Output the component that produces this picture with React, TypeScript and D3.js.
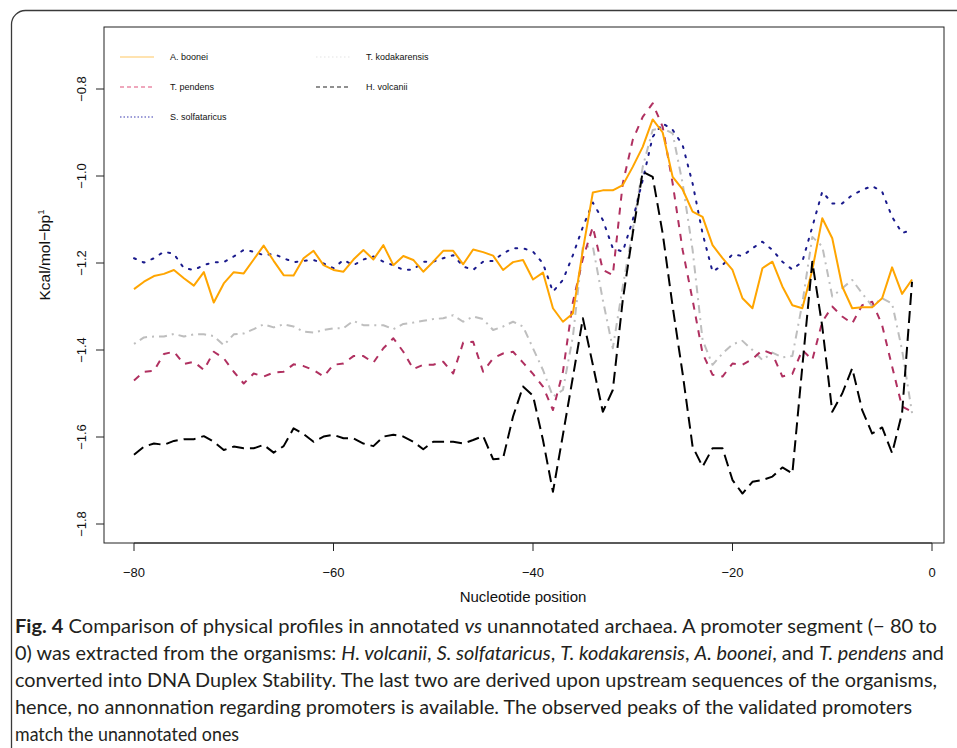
import React from "react"
import * as d3 from "d3"

// nucleotide positions (x) for every series
const positions = [
  -80, -79, -78, -77, -76, -75, -74, -73, -72, -71, -70, -69, -68, -67, -66, -65, -64, -63, -62, -61,
  -60, -59, -58, -57, -56, -55, -54, -53, -52, -51, -50, -49, -48, -47, -46, -45, -44, -43, -42, -41,
  -40, -39, -38, -37, -36, -35, -34, -33, -32, -31, -30, -29, -28, -27, -26, -25, -24, -23, -22, -21,
  -20, -19, -18, -17, -16, -15, -14, -13, -12, -11, -10, -9, -8, -7, -6, -5, -4, -3, -2,
]

const aBoonei = [
  -1.26, -1.243, -1.23, -1.225, -1.216, -1.235, -1.252, -1.221, -1.291, -1.247, -1.221, -1.224, -1.192, -1.16, -1.195, -1.228, -1.229, -1.189, -1.172, -1.205,
  -1.216, -1.22, -1.192, -1.17, -1.192, -1.159, -1.205, -1.184, -1.193, -1.22, -1.197, -1.172, -1.172, -1.203, -1.169, -1.175, -1.183, -1.216, -1.198, -1.193,
  -1.238, -1.222, -1.304, -1.335, -1.316, -1.17, -1.038, -1.033, -1.033, -1.021, -0.979, -0.933, -0.87, -0.9, -1.002, -1.031, -1.082, -1.094, -1.159, -1.189,
  -1.216, -1.281, -1.304, -1.212, -1.197, -1.254, -1.297, -1.304, -1.216, -1.097, -1.143, -1.254, -1.304, -1.302, -1.302, -1.281, -1.21, -1.271, -1.238,
]

const tPendens = [
  -1.47, -1.45, -1.448, -1.409, -1.404, -1.432, -1.427, -1.446, -1.404, -1.419, -1.45, -1.477, -1.454, -1.461, -1.452, -1.45, -1.433, -1.437, -1.446, -1.461,
  -1.434, -1.431, -1.414, -1.414, -1.429, -1.396, -1.373, -1.404, -1.444, -1.434, -1.434, -1.427, -1.454, -1.383, -1.381, -1.45, -1.419, -1.408, -1.404, -1.429,
  -1.455, -1.484, -1.538, -1.45, -1.29, -1.19, -1.117, -1.216, -1.228, -1.017, -0.917, -0.864, -0.833, -0.887, -1.017, -1.17, -1.285, -1.408, -1.457, -1.461,
  -1.431, -1.434, -1.421, -1.4, -1.409, -1.461, -1.455, -1.4, -1.423, -1.335, -1.3, -1.323, -1.339, -1.297, -1.289, -1.343, -1.438, -1.53, -1.542,
]

const sSolfataricus = [
  -1.189, -1.199, -1.189, -1.174, -1.179, -1.212, -1.216, -1.205, -1.198, -1.198, -1.185, -1.17, -1.174, -1.182, -1.179, -1.189, -1.198, -1.195, -1.193, -1.201,
  -1.212, -1.193, -1.205, -1.192, -1.185, -1.197, -1.205, -1.216, -1.215, -1.197, -1.197, -1.189, -1.182, -1.208, -1.216, -1.197, -1.195, -1.178, -1.166, -1.166,
  -1.174, -1.201, -1.266, -1.239, -1.182, -1.117, -1.061, -1.101, -1.166, -1.174, -1.101, -1.009, -0.91, -0.879, -0.894, -0.929, -1.017, -1.132, -1.22, -1.205,
  -1.18, -1.184, -1.166, -1.151, -1.17, -1.197, -1.215, -1.197, -1.117, -1.036, -1.063, -1.063, -1.044, -1.032, -1.023, -1.036, -1.094, -1.131, -1.124,
]

const tKodakarensis = [
  -1.386, -1.371, -1.369, -1.369, -1.363, -1.369, -1.364, -1.364, -1.368, -1.389, -1.364, -1.362, -1.352, -1.341, -1.348, -1.341, -1.346, -1.358, -1.36, -1.354,
  -1.35, -1.35, -1.333, -1.343, -1.343, -1.343, -1.352, -1.34, -1.337, -1.333, -1.329, -1.327, -1.32, -1.335, -1.323, -1.329, -1.354, -1.346, -1.335, -1.346,
  -1.396, -1.446, -1.507, -1.492, -1.369, -1.162, -1.162, -1.285, -1.396, -1.254, -1.124, -0.979, -0.894, -0.89, -0.902, -1.017, -1.17, -1.377, -1.434, -1.408,
  -1.387, -1.379, -1.4, -1.423, -1.406, -1.417, -1.414, -1.293, -1.14, -1.162, -1.277, -1.258, -1.239, -1.27, -1.299, -1.281, -1.293, -1.4, -1.545,
]

const hVolcanii = [
  -1.641, -1.622, -1.615, -1.618, -1.609, -1.605, -1.605, -1.598, -1.611, -1.63, -1.622, -1.626, -1.626, -1.618, -1.636, -1.621, -1.58, -1.593, -1.611, -1.599,
  -1.595, -1.603, -1.603, -1.615, -1.621, -1.599, -1.595, -1.599, -1.611, -1.628, -1.611, -1.611, -1.611, -1.615, -1.607, -1.598, -1.651, -1.649, -1.553, -1.484,
  -1.505, -1.607, -1.726, -1.595, -1.462, -1.327, -1.434, -1.542, -1.492, -1.285, -1.132, -0.99, -1.002, -1.132, -1.3, -1.454, -1.622, -1.668, -1.626, -1.626,
  -1.699, -1.73, -1.703, -1.699, -1.691, -1.67, -1.684, -1.438, -1.197, -1.346, -1.542, -1.5, -1.442, -1.538, -1.592, -1.578, -1.637, -1.545, -1.243,
]

const xTicks = [-80, -60, -40, -20, 0]
const yTicks = [-0.8, -1.0, -1.2, -1.4, -1.6, -1.8]

const series = [
  { name: "T. kodakarensis", values: tKodakarensis, color: "#bebebe", dash: "2,5,8,5", legendColor: "#e4e4e4" },
  { name: "T. pendens", values: tPendens, color: "#b03060", dash: "7,7", legendColor: "#e0507a" },
  { name: "S. solfataricus", values: sSolfataricus, color: "#1a1a8c", dash: "2,7.5", legendColor: "#3a3ab0" },
  { name: "A. boonei", values: aBoonei, color: "#ffa500", dash: null, legendColor: "#ffc862" },
  { name: "H. volcanii", values: hVolcanii, color: "#000000", dash: "12,6", legendColor: "#222" },
]

const legendLeft = ["A. boonei", "T. pendens", "S. solfataricus"]
const legendRight = ["T. kodakarensis", "H. volcanii"]

const font = "'Liberation Sans', Arial, Helvetica, sans-serif"
const capFont = "Lato, 'Open Sans', sans-serif"

export default function App() {
  const box = { left: 104, right: 944, top: 27, bottom: 543 }
  const x = d3.scaleLinear().domain([-80, 0]).range([134, 932])
  const y = d3.scaleLinear().domain([-0.8, -1.8]).range([89, 524])

  const line = d3
    .line<number>()
    .x((d, i) => x(positions[i]))
    .y(d => y(d))

  const fmt = (v: number) => (v < 0 ? "\u2212" : "") + d3.format(".1f")(Math.abs(v))
  const fmtX = (v: number) => (v < 0 ? "\u2212" : "") + Math.abs(v)

  const styleOf = (name: string) => series.find(s => s.name === name)!

  const legendItem = (name: string, lx: number, ly: number) => {
    const s = styleOf(name)
    return (
      <g key={name}>
        <line x1={lx} x2={lx + 34} y1={ly} y2={ly} stroke={s.legendColor} strokeWidth={1.2}
          strokeDasharray={s.dash ? (name === "S. solfataricus" ? "1.5,2" : name === "T. kodakarensis" ? "1.5,2.5" : "4,3") : undefined} />
        <text x={lx + 50} y={ly + 3.2} fontSize={9} fontFamily={font} fill="#111">{name}</text>
      </g>
    )
  }

  const captionLines = [
    { y: 633, len: 922, parts: [["Fig. 4", "b"], ["  Comparison of physical profiles in annotated ", ""], ["vs", "i"], [" unannotated archaea. A promoter segment (\u2212 80 to", ""]] },
    { y: 660, len: 929, parts: [["0) was extracted from the organisms: ", ""], ["H. volcanii", "i"], [", ", ""], ["S. solfataricus", "i"], [", ", ""], ["T. kodakarensis", "i"], [", ", ""], ["A. boonei", "i"], [", and ", ""], ["T. pendens", "i"], [" and", ""]] },
    { y: 687, len: 922, parts: [["converted into DNA Duplex Stability. The last two are derived upon upstream sequences of the organisms,", ""]] },
    { y: 714, len: 897, parts: [["hence, no annonnation regarding promoters is available. The observed peaks of the validated promoters", ""]] },
    { y: 741, len: 224, parts: [["match the unannotated ones", ""]] },
  ]

  return (
    <svg width={957} height={748} style={{ position: "absolute", left: 0, top: 0, background: "#fff" }}>
      <rect x={11.5} y={10.5} width={1000} height={800} rx={14} fill="none" stroke="#3a3a3a" strokeWidth={1.3} />

      {/* series */}
      {series.map(s => (
        <path key={s.name} d={line(s.values) || ""} fill="none" stroke={s.color} strokeWidth={2}
          strokeDasharray={s.dash || undefined} strokeLinejoin="round"
          strokeLinecap={s.name === "S. solfataricus" ? "round" : "butt"} />
      ))}

      <rect x={box.left} y={box.top} width={box.right - box.left} height={box.bottom - box.top}
        fill="none" stroke="#222" strokeWidth={1} />

      {/* x axis */}
      <line x1={x(-80)} x2={x(0)} y1={box.bottom} y2={box.bottom} stroke="#222" />
      {xTicks.map(t => (
        <g key={t}>
          <line x1={x(t)} x2={x(t)} y1={box.bottom} y2={box.bottom + 8} stroke="#222" />
          <text x={x(t)} y={577} textAnchor="middle" fontSize={13} fontFamily={font} fill="#111">{fmtX(t)}</text>
        </g>
      ))}
      <text x={x(-40) - 10} y={602} textAnchor="middle" fontSize={15} fontFamily={font} fill="#111">Nucleotide position</text>

      {/* y axis */}
      {yTicks.map(t => (
        <g key={t}>
          <line x1={box.left - 8} x2={box.left} y1={y(t)} y2={y(t)} stroke="#222" />
          <text transform={`translate(${86},${y(t)}) rotate(-90)`} textAnchor="middle" fontSize={13} fontFamily={font} fill="#111">{fmt(t)}</text>
        </g>
      ))}
      <text transform={`translate(${50},${255}) rotate(-90)`} textAnchor="middle" fontSize={15.5} fontFamily={font} fill="#111">
        Kcal/mol{"\u2212"}bp<tspan fontSize={9.5} dy={-6}>1</tspan>
      </text>

      {/* legend */}
      {legendLeft.map((n, i) => legendItem(n, 120, 57 + i * 30))}
      {legendRight.map((n, i) => legendItem(n, 316, 57 + i * 30))}

      {/* caption */}
      {captionLines.map((l, i) => (
        <text key={i} x={15} y={l.y} fontSize={19} fontFamily={capFont} fill="#231f20"
          textLength={l.len} lengthAdjust="spacingAndGlyphs">
          {l.parts.map((p, j) => (
            <tspan key={j} fontWeight={p[1] === "b" ? "bold" : "normal"} fontStyle={p[1] === "i" ? "italic" : "normal"}>{p[0]}</tspan>
          ))}
        </text>
      ))}
    </svg>
  )
}
